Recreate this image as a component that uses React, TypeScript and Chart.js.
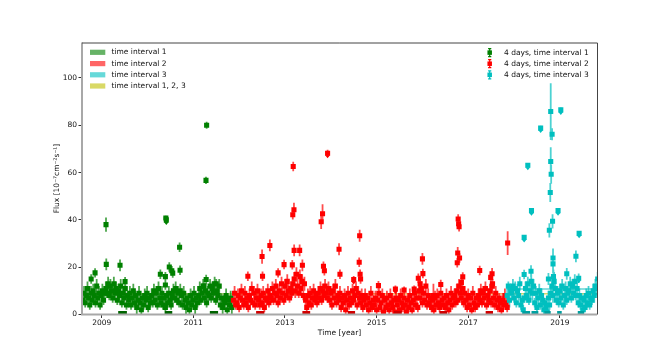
import React, { useEffect, useRef } from 'react';
import { Chart, registerables } from 'chart.js';

Chart.register(...registerables);

const FONT = '"DejaVu Sans", sans-serif';

const X_MIN = 2008.57;
const X_MAX = 2019.81;
const Y_MIN = 0;
const Y_MAX = 115;
const xTicks = [2009, 2011, 2013, 2015, 2017, 2019];
const yTicks = [0, 20, 40, 60, 80, 100];

const BIN = 0.025;

// ---- time interval 1 (green) ----
const greenStart = 2008.59;
const greenFlux = [
  6, 9, 5, 8, 11, 7, 4, 9, 6, 10,
  8, 5, 12, 7, 9, 4, 8, 10, 6, 9,
  11, 9, 13, 8, 12, 10, 7, 13, 9, 11,
  6, 10, 8, 12, 5, 9, 7, 11, 4, 8,
  6, 9, 4, 7, 10, 5, 8, 3, 6, 9,
  5, 2, 7, 4, 8, 6, 9, 3, 7, 5,
  8, 5, 10, 6, 9, 4, 11, 7, 5, 9,
  4, 7, 3, 8, 5, 9, 6, 4, 8, 10,
  7, 11, 6, 9, 5, 10, 8, 4, 9, 6,
  3, 7, 5, 2, 8, 4, 6, 9, 3, 7,
  5, 8, 11, 6, 9, 12, 7, 10, 5, 9,
  8, 12, 7, 11, 9, 13, 6, 10, 8, 12,
  4, 7, 3, 6, 5, 8, 2, 6, 4, 7,
  3,
];
const greenErr = [
  2, 3, 2, 2, 3, 2, 2, 3, 2, 3,
  2, 2, 3, 2, 3, 2, 2, 3, 2, 2,
  3, 2, 3, 2, 3, 3, 2, 3, 2, 3,
  2, 3, 2, 3, 2, 2, 2, 3, 2, 2,
  2, 3, 2, 2, 3, 2, 2, 3, 2, 3,
  2, 2, 2, 2, 3, 2, 3, 2, 2, 2,
  3, 2, 3, 2, 3, 2, 3, 2, 2, 3,
  2, 2, 3, 2, 2, 3, 2, 2, 3, 3,
  2, 3, 2, 3, 2, 3, 3, 2, 3, 2,
  3, 2, 2, 2, 3, 2, 2, 3, 3, 2,
  2, 3, 3, 2, 3, 3, 2, 3, 2, 3,
  2, 3, 2, 3, 3, 3, 2, 3, 2, 3,
  2, 2, 3, 2, 2, 3, 2, 2, 2, 3,
  3,
];
const greenPeakT = [2008.77, 2008.855, 2009.094, 2009.1, 2009.4, 2009.51, 2010.28, 2010.39, 2010.39, 2010.4, 2010.41, 2010.475, 2010.53, 2010.55, 2010.7, 2010.71, 2011.23, 2011.276, 2011.28, 2011.29, 2011.5];
const greenPeakF = [15, 17.6, 38, 21.2, 20.8, 13.9, 17, 16, 12.5, 40.8, 40, 20.1, 18.5, 17.5, 28.4, 18.7, 12, 56.7, 14.8, 80, 13];
const greenPeakE = [2, 2, 3, 2.5, 2.5, 2, 2, 2, 2, 1, 1, 2, 2, 2, 2, 2, 2, 1.5, 2, 1.5, 2];
const greenPeakUL = [0, 0, 0, 0, 0, 0, 0, 0, 0, 0, 1, 0, 0, 0, 0, 0, 0, 0, 0, 0, 0];

// ---- time interval 2 (red) ----
const redStart = 2011.875;
const redFlux = [
  6, 9, 4,
  5, 8, 3, 7, 10, 6, 4, 9, 5, 7,
  3, 8, 6, 11, 5, 9, 4, 7, 10, 6,
  4, 8, 5, 9, 3, 7, 6, 10, 5, 8,
  7, 11, 6, 9, 12, 8, 5, 10, 7, 13,
  9, 6, 12, 8, 14, 10, 7, 11, 9, 13,
  15, 10, 17, 12, 9, 16, 11, 14, 8, 13,
  6, 3, 8, 5, 9, 4, 7, 10, 6, 8,
  5, 9, 7, 11, 6, 10, 8, 12, 9, 7,
  11, 6, 9, 4, 10, 7, 12, 5, 8, 6,
  9, 3, 7, 5, 8, 2, 6, 9, 4, 7,
  5, 10, 6, 8, 11, 4, 9, 7, 5, 8,
  3, 6, 8, 4, 7, 2, 5, 9, 3, 6,
  4, 7, 2, 6, 9, 3, 5, 8, 1, 6,
  3, 7, 4, 2, 8, 5, 3, 6, 1, 7,
  4, 6, 2, 8, 5, 3, 7, 4, 1, 6,
  3, 8, 5, 2, 6, 9, 4, 7, 3, 10,
  7, 11, 5, 9, 6, 12, 4, 8, 5, 7,
  3, 6, 2, 7, 4, 8, 5, 3, 9, 6,
  4, 7, 3, 8, 5, 2, 6, 9, 4, 7,
  8, 5, 10, 6, 12, 9, 7, 11, 5, 9,
  6, 3, 8, 4, 7, 2, 9, 5, 3, 7,
  4, 8, 6, 10, 5, 9, 7, 11, 4, 8,
  6, 10, 5, 12, 7, 4, 9, 6, 3, 7,
  5, 2, 6, 4, 8, 5, 3,
];
const redErr = [
  2, 3, 2,
  2, 3, 2, 2, 3, 2, 2, 3, 2, 2,
  2, 3, 2, 3, 2, 3, 2, 2, 3, 2,
  2, 3, 2, 3, 2, 2, 2, 3, 2, 3,
  2, 3, 2, 3, 3, 2, 2, 3, 2, 3,
  3, 2, 3, 2, 3, 3, 2, 3, 2, 3,
  3, 3, 3, 3, 2, 3, 3, 3, 2, 3,
  2, 2, 3, 2, 3, 2, 2, 3, 2, 2,
  2, 3, 2, 3, 2, 3, 2, 3, 3, 2,
  3, 2, 3, 2, 3, 2, 3, 2, 2, 2,
  3, 2, 2, 2, 3, 2, 2, 3, 2, 2,
  2, 3, 2, 2, 3, 2, 3, 2, 2, 3,
  2, 2, 3, 2, 2, 2, 2, 3, 2, 2,
  2, 3, 2, 2, 3, 2, 2, 3, 2, 2,
  2, 3, 2, 2, 3, 2, 2, 2, 2, 3,
  2, 2, 2, 3, 2, 2, 3, 2, 2, 2,
  2, 3, 2, 2, 2, 3, 2, 3, 2, 3,
  2, 3, 2, 3, 2, 3, 2, 3, 2, 2,
  2, 2, 2, 3, 2, 3, 2, 2, 3, 2,
  2, 2, 2, 3, 2, 2, 2, 3, 2, 2,
  3, 2, 3, 2, 3, 3, 2, 3, 2, 3,
  2, 2, 3, 2, 2, 2, 3, 2, 2, 2,
  2, 3, 2, 3, 2, 3, 2, 3, 2, 3,
  2, 3, 2, 3, 2, 2, 3, 2, 2, 2,
  2, 2, 2, 2, 3, 2, 2,
];
const redPeakT = [2012.19, 2012.5, 2012.51, 2012.67, 2012.85, 2012.98, 2013.16, 2013.18, 2013.17, 2013.196, 2013.2, 2013.32, 2013.38, 2013.79, 2013.82, 2013.84, 2013.86, 2013.93, 2014.18, 2014.2, 2014.5, 2014.62, 2014.63, 2014.64, 2014.65, 2015.04, 2015.41, 2015.6, 2015.82, 2015.91, 2015.95, 2016.0, 2016.01, 2016.24, 2016.4, 2016.76, 2016.77, 2016.78, 2016.79, 2016.8, 2016.81, 2016.85, 2016.88, 2017.25, 2017.49, 2017.52, 2017.53, 2017.86];
const redPeakF = [16.2, 24.5, 16.2, 29.2, 17.6, 21.1, 21, 62.6, 42.2, 44.3, 27.1, 27.1, 20.8, 39.2, 42.6, 20.4, 18.5, 68.2, 27.6, 17, 14.8, 22.1, 33.3, 17, 15, 12.2, 10.8, 10.3, 10.8, 15.3, 13, 23.5, 17.3, 8, 12.7, 21.9, 26, 40.4, 38.4, 37.1, 23.9, 13.5, 15.9, 18.6, 15.7, 17.2, 13, 30.2];
const redPeakE = [2, 3, 2, 2.5, 2, 2, 2, 2, 2, 3, 2.5, 2.5, 2.5, 3, 4, 2, 2, 1.5, 2.5, 2, 1.5, 2, 2.5, 2, 2, 2, 1.5, 1.5, 1.5, 2, 2, 2.5, 2, 5, 2, 2, 2.5, 2, 2, 2, 2, 2, 2, 2, 2.5, 2.5, 2, 5];
const redPeakUL = [0, 0, 0, 0, 0, 0, 0, 0, 0, 0, 0, 0, 0, 0, 0, 0, 0, 1, 0, 0, 1, 0, 0, 0, 0, 0, 1, 0, 1, 0, 0, 0, 0, 0, 0, 0, 0, 0, 0, 0, 0, 0, 0, 0, 0, 0, 0, 0];

// ---- time interval 3 (cyan) ----
const cyanStart = 2017.85;
const cyanFlux = [
  8, 12, 6, 10,
  9, 12, 7, 11, 5, 10, 8, 13, 4, 6,
  2, 7, 11, 8, 13, 6, 10, 14, 9, 12,
  5, 9, 3, 7, 10, 4, 8, 6, 2, 5,
  3, 1, 7, 4, 9, 12, 8, 14, 11, 6,
  9, 5, 10, 7, 12, 4, 8, 11, 6, 9,
  10, 13, 7, 12, 9, 14, 8, 11, 5, 8,
  4, 7, 2, 6, 3, 8, 5, 9, 4, 7,
  6, 10, 8, 12, 11, 15,
];
const cyanErr = [
  3, 2, 3, 2,
  3, 3, 2, 3, 2, 3, 2, 3, 2, 2,
  2, 2, 3, 3, 3, 2, 3, 3, 3, 3,
  2, 3, 2, 2, 3, 2, 3, 2, 2, 2,
  2, 2, 3, 2, 3, 3, 3, 4, 3, 2,
  3, 2, 3, 2, 3, 2, 3, 3, 2, 3,
  3, 3, 2, 3, 3, 3, 2, 3, 2, 3,
  2, 2, 2, 2, 2, 3, 2, 3, 2, 2,
  2, 3, 3, 3, 3, 3,
];
const cyanPeakT = [2018.22, 2018.22, 2018.3, 2018.37, 2018.38, 2018.58, 2018.75, 2018.77, 2018.79, 2018.8, 2018.8, 2018.81, 2018.83, 2018.84, 2018.85, 2018.85, 2018.86, 2018.96, 2019.02, 2019.15, 2019.35, 2019.41, 2019.42];
const cyanPeakF = [32.6, 16.9, 63.1, 18.3, 43.9, 78.8, 15, 35.6, 51.6, 85.8, 64.7, 59.3, 76.2, 39.4, 23.9, 21.4, 16, 43.9, 86.5, 17.2, 24.6, 15.3, 34.3];
const cyanPeakE = [1, 2, 1, 2.5, 1, 1, 2.5, 3, 4, 12, 6, 4, 2.5, 3, 4, 4, 3, 1, 1, 2.5, 2.5, 2, 1];
const cyanPeakUL = [1, 0, 1, 0, 1, 1, 0, 0, 0, 0, 0, 0, 0, 0, 0, 0, 0, 1, 1, 0, 0, 1, 1];

// zero-flux bins (start, end) per interval
const greenZeroSpans = [[2009.36, 2009.55], [2010.38, 2010.54], [2011.36, 2011.54]];
const redZeroSpans = [[2012.37, 2012.55], [2013.38, 2013.55], [2014.37, 2014.53], [2015.38, 2015.55], [2016.37, 2016.54], [2017.38, 2017.54]];
const cyanZeroSpans = [[2018.18, 2018.35], [2018.38, 2018.53], [2018.66, 2018.8], [2018.94, 2019.04], [2019.39, 2019.53]];

// mean flux per time interval
const intervalStart = [2008.57, 2011.86, 2017.84];
const intervalEnd = [2011.86, 2017.84, 2019.81];
const intervalMean = [8.7, 8.8, 10.8];
const overallMean = 8.8;

const patchLabels = ['time interval 1', 'time interval 2', 'time interval 3', 'time interval 1, 2, 3'];
const pointLabels = ['4 days, time interval 1', '4 days, time interval 2', '4 days, time interval 3'];

const GREEN = '#008000';
const RED = '#ff0000';
const CYAN = '#00bfbf';

type Pt = { x: number; y: number; e: number; ul: number };

function buildSeries(start: number, flux: number[], err: number[], pT: number[], pF: number[], pE: number[], pUL: number[]): Pt[] {
  const pts: Pt[] = flux.map((f, i) => ({ x: start + i * BIN, y: f, e: err[i], ul: 0 }));
  pT.forEach((t, i) => pts.push({ x: t, y: pF[i], e: pE[i], ul: pUL[i] }));
  return pts;
}

export default function App() {
  const ref = useRef<HTMLCanvasElement | null>(null);

  useEffect(() => {
    if (!ref.current) return;
    const green = buildSeries(greenStart, greenFlux, greenErr, greenPeakT, greenPeakF, greenPeakE, greenPeakUL);
    const red = buildSeries(redStart, redFlux, redErr, redPeakT, redPeakF, redPeakE, redPeakUL);
    const cyan = buildSeries(cyanStart, cyanFlux, cyanErr, cyanPeakT, cyanPeakF, cyanPeakE, cyanPeakUL);
    const series = [
      { pts: green, color: GREEN, errColor: 'rgba(0,128,0,0.7)', zero: greenZeroSpans, zeroColor: '#006400' },
      { pts: red, color: RED, errColor: 'rgba(255,0,0,0.7)', zero: redZeroSpans, zeroColor: '#d00000' },
      { pts: cyan, color: CYAN, errColor: 'rgba(0,191,191,0.7)', zero: cyanZeroSpans, zeroColor: '#00a0a0' },
    ];
    const lineColors = ['rgb(190,212,140)', 'rgb(248,165,95)', 'rgb(100,212,212)'];

    const decor = {
      id: 'decor',
      beforeDatasetsDraw(chart: any) {
        const { ctx, chartArea: a } = chart;
        const xs = chart.scales.x;
        const ys = chart.scales.y;
        ctx.save();
        ctx.beginPath();
        ctx.rect(a.left, a.top, a.right - a.left, a.bottom - a.top);
        ctx.clip();
        // mean lines
        ctx.lineWidth = 1.5;
        ctx.strokeStyle = 'rgba(191,191,0,0.6)';
        ctx.beginPath();
        ctx.moveTo(xs.getPixelForValue(X_MIN), ys.getPixelForValue(overallMean));
        ctx.lineTo(xs.getPixelForValue(X_MAX), ys.getPixelForValue(overallMean));
        ctx.stroke();
        intervalMean.forEach((m, i) => {
          ctx.strokeStyle = lineColors[i];
          ctx.beginPath();
          ctx.moveTo(xs.getPixelForValue(intervalStart[i]), ys.getPixelForValue(m));
          ctx.lineTo(xs.getPixelForValue(intervalEnd[i]), ys.getPixelForValue(m));
          ctx.stroke();
        });
        // error bars
        ctx.lineWidth = 1.8;
        series.forEach((s) => {
          ctx.strokeStyle = s.errColor;
          ctx.beginPath();
          s.pts.forEach((p) => {
            const px = xs.getPixelForValue(p.x);
            ctx.moveTo(px, ys.getPixelForValue(p.y - p.e));
            ctx.lineTo(px, ys.getPixelForValue(p.y + p.e));
          });
          ctx.stroke();
        });
        ctx.restore();
      },
      afterDatasetsDraw(chart: any) {
        const { ctx } = chart;
        const xs = chart.scales.x;
        const ys = chart.scales.y;
        ctx.save();
        series.forEach((s) => {
          ctx.fillStyle = s.color;
          s.pts.forEach((p) => {
            if (!p.ul) return;
            const px = xs.getPixelForValue(p.x);
            const py = ys.getPixelForValue(p.y);
            ctx.beginPath();
            ctx.moveTo(px - 2.4, py + 2);
            ctx.lineTo(px + 2.4, py + 2);
            ctx.lineTo(px, py + 5);
            ctx.closePath();
            ctx.fill();
          });
        });
        // zero bins
        const y0 = ys.getPixelForValue(0);
        series.forEach((s) => {
          ctx.fillStyle = s.zeroColor;
          s.zero.forEach(([t0, t1]) => {
            const x0 = xs.getPixelForValue(t0);
            const x1 = xs.getPixelForValue(t1);
            ctx.fillRect(x0, y0 - 3.5, x1 - x0, 3.5);
          });
        });
        ctx.restore();
      },
      afterDraw(chart: any) {
        const { ctx, chartArea: a } = chart;
        ctx.save();
        // spines
        ctx.strokeStyle = '#a8a8a8';
        ctx.lineWidth = 2;
        ctx.beginPath();
        ctx.moveTo(a.left, a.top);
        ctx.lineTo(a.left, a.bottom);
        ctx.lineTo(a.right, a.bottom);
        ctx.stroke();
        ctx.strokeStyle = '#444';
        ctx.lineWidth = 1;
        ctx.beginPath();
        ctx.moveTo(a.left, a.top + 0.5);
        ctx.lineTo(a.right + 0.5, a.top + 0.5);
        ctx.lineTo(a.right + 0.5, a.bottom);
        ctx.stroke();

        ctx.font = `7.5px ${FONT}`;
        ctx.fillStyle = '#111';
        ctx.textBaseline = 'middle';
        // axis titles
        ctx.textAlign = 'center';
        ctx.fillText('Time [year]', (a.left + a.right) / 2, 333);
        ctx.save();
        ctx.translate(57, (a.top + a.bottom) / 2);
        ctx.rotate(-Math.PI / 2);
        ctx.fillText('Flux [10\u207B\u2077cm\u207B\u00B2s\u207B\u00B9]', 0, 0);
        ctx.restore();

        // left legend (patches)
        const patchColors = ['rgba(0,128,0,0.6)', 'rgba(255,0,0,0.6)', 'rgba(0,191,191,0.6)', 'rgba(191,191,0,0.6)'];
        const rowsL = [52.3, 63.6, 74.8, 86];
        patchLabels.forEach((lab, i) => {
          ctx.fillStyle = patchColors[i];
          ctx.fillRect(90, rowsL[i] - 2.6, 15.3, 5.2);
          ctx.fillStyle = '#111';
          ctx.textAlign = 'left';
          ctx.fillText(lab, 111.5, rowsL[i]);
        });
        // right legend (errorbar symbols)
        const symColors = [GREEN, RED, CYAN];
        const rowsR = [52.6, 63.7, 74.8];
        pointLabels.forEach((lab, i) => {
          const cx = 489.7;
          const cy = rowsR[i];
          ctx.strokeStyle = symColors[i];
          ctx.lineWidth = 1.2;
          ctx.beginPath();
          ctx.moveTo(cx, cy - 4);
          ctx.lineTo(cx, cy + 4);
          ctx.moveTo(cx - 1.6, cy - 4);
          ctx.lineTo(cx + 1.6, cy - 4);
          ctx.moveTo(cx - 1.6, cy + 4);
          ctx.lineTo(cx + 1.6, cy + 4);
          ctx.stroke();
          ctx.fillStyle = symColors[i];
          ctx.fillRect(cx - 2.25, cy - 2.25, 4.5, 4.5);
          ctx.fillStyle = '#111';
          ctx.textAlign = 'left';
          ctx.fillText(lab, 504, cy);
        });
        ctx.restore();
      },
    };

    const mk = (pts: Pt[], color: string) => ({
      type: 'scatter' as const,
      data: pts.map((p) => ({ x: p.x, y: p.y })),
      pointStyle: 'rect' as const,
      pointRadius: 3.6,
      pointHoverRadius: 3.6,
      backgroundColor: color,
      borderWidth: 0,
      borderColor: color,
    });

    const tickFont = { family: FONT, size: 7.5 };

    const chart = new Chart(ref.current, {
      type: 'scatter',
      data: {
        datasets: [mk(cyan, CYAN), mk(red, RED), mk(green, GREEN)],
      },
      options: {
        animation: false,
        responsive: false,
        devicePixelRatio: 1,
        layout: { padding: { top: 42.5, right: 67, bottom: 0, left: 0 } },
        plugins: { legend: { display: false }, tooltip: { enabled: false } },
        scales: {
          x: {
            type: 'linear',
            min: X_MIN,
            max: X_MAX,
            afterBuildTicks: (s: any) => {
              s.ticks = xTicks.map((v) => ({ value: v }));
            },
            afterFit: (s: any) => {
              s.height = 39.5;
            },
            grid: { display: true, drawOnChartArea: false, drawTicks: true, tickLength: 3.5, color: '#333', lineWidth: 1 },
            border: { display: false },
            ticks: { font: tickFont, color: '#111', padding: 1, maxRotation: 0, autoSkip: false, callback: (v: any) => String(v) },
          },
          y: {
            type: 'linear',
            min: Y_MIN,
            max: Y_MAX,
            afterBuildTicks: (s: any) => {
              s.ticks = yTicks.map((v) => ({ value: v }));
            },
            afterFit: (s: any) => {
              s.width = 82;
            },
            grid: { display: true, drawOnChartArea: false, drawTicks: true, tickLength: 3.5, color: '#333', lineWidth: 1 },
            border: { display: false },
            ticks: { font: tickFont, color: '#111', padding: 1.5, autoSkip: false, callback: (v: any) => String(v) },
          },
        },
      },
      plugins: [decor],
    } as any);

    return () => chart.destroy();
  }, []);

  return (
    <div style={{ position: 'absolute', left: 0, top: 0, width: 664, height: 354, background: '#fff' }}>
      <canvas ref={ref} width={664} height={354} style={{ display: 'block' }} />
    </div>
  );
}
